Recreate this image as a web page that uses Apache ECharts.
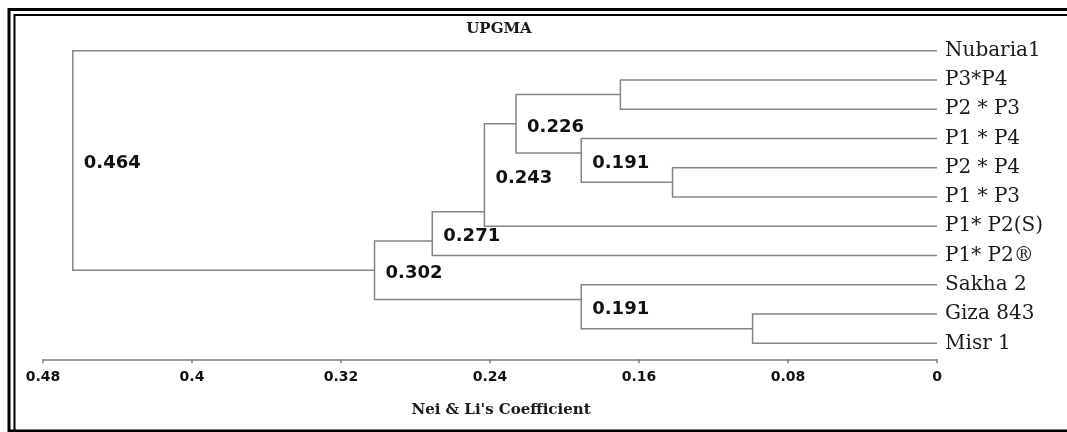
<!DOCTYPE html>
<html>
<head>
<meta charset="utf-8">
<script src="https://cdn.jsdelivr.net/npm/echarts@6/dist/echarts.min.js"></script>
<style>
  html, body { margin: 0; padding: 0; background: #ffffff; }
  #chart { width: 1067px; height: 432px; }
</style>
</head>
<body>
<div id="chart"></div>
<script>
// ---- data ----
const leafNames = ['Nubaria1', 'P3*P4', 'P2 * P3', 'P1 * P4', 'P2 * P4', 'P1 * P3',
                   'P1* P2(S)', 'P1* P2®', 'Sakha 2', 'Giza 843', 'Misr 1'];
// internal nodes (UPGMA clusters)
const nodeIds     = ['n1', 'n2', 'n3', 'n4', 'n5', 'n6', 'n7', 'n8', 'n9', 'n10'];
const nodeHeights = [0.170, 0.142, 0.191, 0.226, 0.243, 0.271, 0.099, 0.191, 0.302, 0.464];
const nodeUpper   = ['P3*P4', 'P2 * P4', 'P1 * P4', 'n1', 'n4', 'n5', 'Giza 843', 'Sakha 2', 'n6', 'Nubaria1'];
const nodeLower   = ['P2 * P3', 'P1 * P3', 'n2', 'n3', 'P1* P2(S)', 'P1* P2®', 'Misr 1', 'n7', 'n8', 'n9'];
// row (leaf index units) where each cluster joins its parent
const nodeJoinRow = [1.5, 4.5, 3.5, 2.5, 5.5, 6.5, 9.5, 8.5, 7.5, null];
const nodeLabels  = ['', '', '0.191', '0.226', '0.243', '0.271', '', '0.191', '0.302', '0.464'];
const xTicks      = [0, 0.08, 0.16, 0.24, 0.32, 0.4, 0.48];
const xTickLabels = ['0', '0.08', '0.16', '0.24', '0.32', '0.4', '0.48'];

// ---- build tree segments in data units ----
function refPos(ref) {
  const li = leafNames.indexOf(ref);
  if (li >= 0) return [0, li];
  const ni = nodeIds.indexOf(ref);
  return [nodeHeights[ni], nodeJoinRow[ni]];
}
const treeLines = [];
const labelPts = [];
nodeIds.forEach((id, i) => {
  const h = nodeHeights[i];
  const up = refPos(nodeUpper[i]);
  const lo = refPos(nodeLower[i]);
  treeLines.push({ coords: [[up[0], up[1]], [h, up[1]], [h, lo[1]], [lo[0], lo[1]]] });
  if (nodeLabels[i]) labelPts.push([h, (up[1] + lo[1]) / 2, nodeLabels[i]]);
});

const chart = echarts.init(document.getElementById('chart'), null, { renderer: 'canvas' });
chart.setOption({
  animation: false,
  backgroundColor: '#ffffff',
  title: {
    text: 'UPGMA',
    left: 499, top: 22, textAlign: 'center', padding: 0,
    textStyle: { fontFamily: 'DejaVu Serif', fontWeight: 'bold', fontSize: 15, color: '#1a1a1a' }
  },
  graphic: [
    { type: 'rect', silent: true, shape: { x: 9, y: 9.5, width: 1200, height: 421.5 },
      style: { fill: null, stroke: '#000', lineWidth: 3 } },
    { type: 'rect', silent: true, shape: { x: 14.5, y: 15, width: 1200, height: 1000 },
      style: { fill: null, stroke: '#000', lineWidth: 2 } }
  ],
  grid: { left: 43, right: 130, top: 50.7, bottom: 88.7 },
  xAxis: {
    type: 'value', min: 0, max: 0.48, interval: 0.08, inverse: true,
    position: 'bottom', offset: 16,
    name: "Nei & Li's Coefficient", nameLocation: 'middle', nameGap: 43,
    nameTextStyle: { fontFamily: 'DejaVu Serif', fontWeight: 'bold', fontSize: 15, color: '#1a1a1a',
                     padding: [0, 0, 0, 22] },
    axisLine: { show: true, onZero: false, lineStyle: { color: '#808080', width: 1.5 } },
    axisTick: { show: true, length: 4, lineStyle: { color: '#808080', width: 1.5 } },
    splitLine: { show: false },
    axisLabel: {
      margin: 11, fontFamily: 'DejaVu Sans', fontWeight: 'bold', fontSize: 14, color: '#111',
      formatter: v => xTickLabels[xTicks.findIndex(t => Math.abs(t - v) < 1e-6)]
    }
  },
  yAxis: {
    type: 'value', min: 0, max: 10, interval: 1, inverse: true, position: 'right',
    axisLine: { show: false }, axisTick: { show: false }, splitLine: { show: false },
    axisLabel: {
      margin: 8, fontFamily: 'DejaVu Serif', fontSize: 20, color: '#1a1a1a',
      formatter: v => leafNames[v] || ''
    }
  },
  series: [
    {
      type: 'lines', coordinateSystem: 'cartesian2d', polyline: true, silent: true,
      lineStyle: { color: '#858585', width: 1.5, opacity: 1 },
      data: treeLines
    },
    {
      type: 'scatter', symbolSize: 0, silent: true,
      itemStyle: { opacity: 1 },
      data: labelPts,
      label: {
        show: true, position: 'right', offset: [6, 3], opacity: 1,
        formatter: p => p.data[2],
        fontFamily: 'DejaVu Sans', fontWeight: 'bold', fontSize: 18, color: '#111'
      }
    }
  ]
});
</script>
</body>
</html>
